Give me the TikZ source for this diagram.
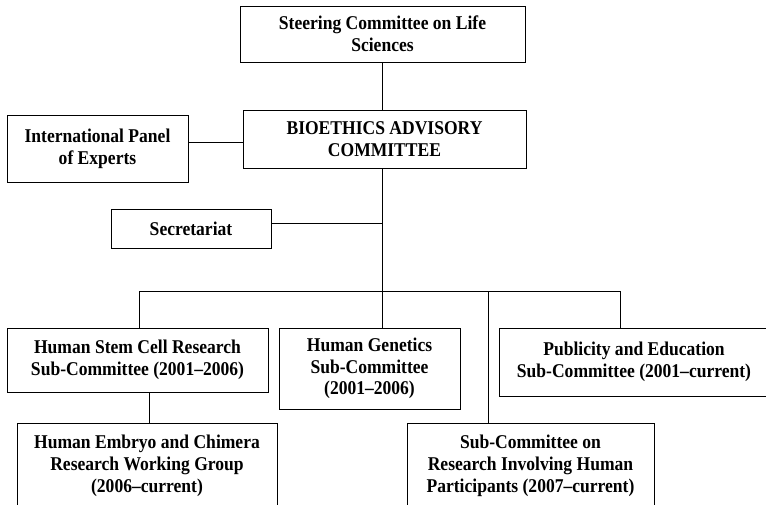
\documentclass[tikz,border=0pt]{standalone}
\usepackage{fontspec}
\setmainfont{Liberation Serif}[FakeStretch=0.9]
\begin{document}
\begin{tikzpicture}[x=1pt,y=-1pt,
  box/.style={draw,line width=1pt,align=center,font=\bfseries\fontsize{19.5}{21.7}\selectfont,inner sep=0pt},
  conn/.style={line width=1pt}]
\useasboundingbox (0,0) rectangle (766,504);
\clip (0,0) rectangle (766,504);
\node[box,minimum width=285pt,minimum height=56pt] (steer) at (382.5,34) {Steering Committee on Life\\Sciences};
\node[box,minimum width=283pt,minimum height=58pt] (bac) at (384.5,139) {BIOETHICS ADVISORY\\COMMITTEE};
\node[box,minimum width=181pt,minimum height=67pt] (ipe) at (97.5,148.5) {International Panel\\of Experts};
\node[box,minimum width=160pt,minimum height=39pt] (sec) at (191,228.5) {Secretariat};
\node[box,minimum width=261pt,minimum height=64pt] (hsc) at (137.5,360) {Human Stem Cell Research\\Sub-Committee (2001–2006)};
\node[box,minimum width=181pt,minimum height=81pt] (hg) at (369.5,368.5) {Human Genetics\\Sub-Committee\\(2001–2006)};
\node[box,minimum width=270pt,minimum height=68pt] (pub) at (634,362) {Publicity and Education\\Sub-Committee (2001–current)};
\node[box,minimum width=260pt,minimum height=86pt] (emb) at (147,466) {Human Embryo and Chimera\\Research Working Group\\(2006–current)};
\node[box,minimum width=247pt,minimum height=86pt] (sc) at (530.5,466) {Sub-Committee on\\Research Involving Human\\Participants (2007–current)};
\coordinate (spine) at (382.7,0);
\coordinate (jipe) at (0,142);
\coordinate (jsec) at (0,223);
\coordinate (bus) at (0,291);
\coordinate (xl) at (139,0);
\coordinate (xr) at (620,0);
\coordinate (xsc) at (488,0);
\coordinate (xemb) at (149,0);
\draw[conn] (spine |- steer.south) -- (spine |- bac.north);
\draw[conn] (spine |- bac.south) -- (spine |- hg.north);
\draw[conn] (ipe.east |- jipe) -- (bac.west |- jipe);
\draw[conn] (sec.east |- jsec) -- (spine |- jsec);
\draw[conn] (xl |- hsc.north) -- (xl |- bus) -- (xr |- bus) -- (xr |- pub.north);
\draw[conn] (xsc |- bus) -- (xsc |- sc.north);
\draw[conn] (xemb |- hsc.south) -- (xemb |- emb.north);
\end{tikzpicture}
\end{document}
